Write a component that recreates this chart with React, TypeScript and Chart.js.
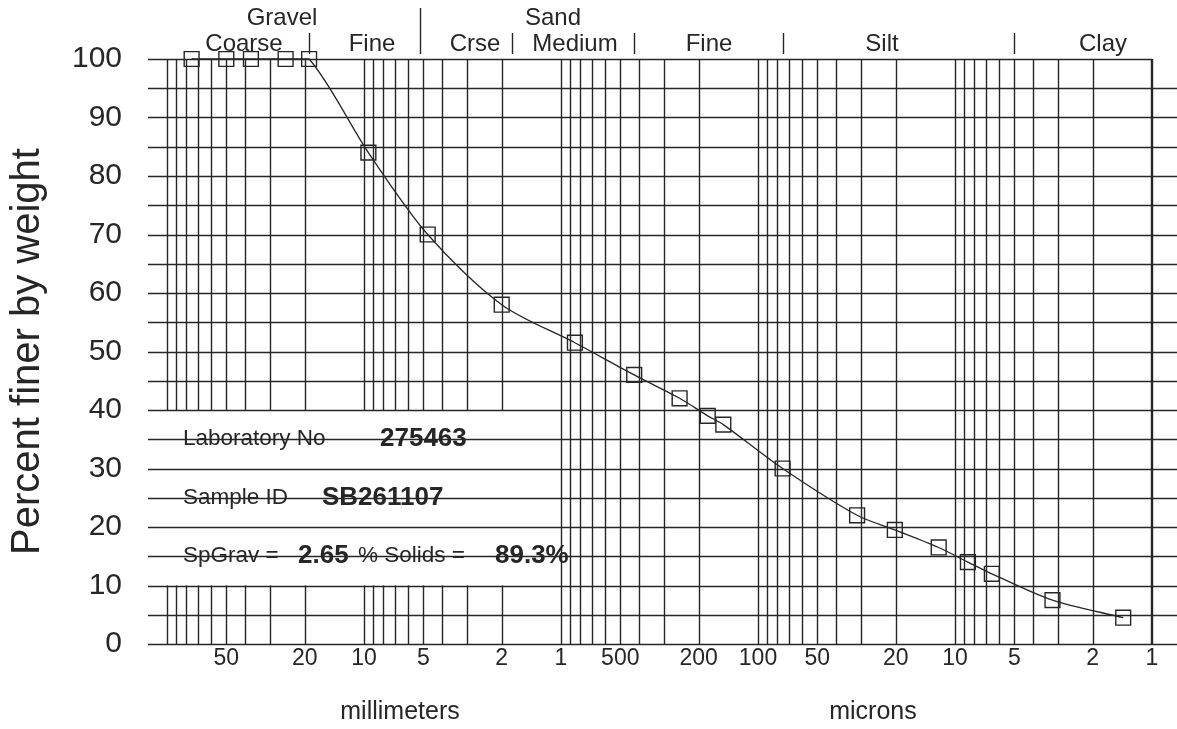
import React, { useEffect, useRef } from "react";
import { Chart, registerables } from "chart.js";

Chart.register(...registerables);

// ---- data ----
const grainSizeMm = [
  75, 50, 37.5, 25, 19, 9.5, 4.75, 2.0, 0.85, 0.425, 0.25, 0.18, 0.15, 0.075,
  0.0314, 0.0202, 0.0121, 0.0086, 0.0065, 0.0032, 0.0014,
];
const percentFiner = [
  100, 100, 100, 100, 100, 84, 70, 58, 51.5, 46, 42, 39, 37.5, 30,
  22, 19.5, 16.5, 14, 12, 7.5, 4.5,
];
const xTickValuesMm = [50, 20, 10, 5, 2, 1, 0.5, 0.2, 0.1, 0.05, 0.02, 0.01, 0.005, 0.002, 0.001];
const yTickValues = [0, 10, 20, 30, 40, 50, 60, 70, 80, 90, 100];
const yGridValues = [0, 5, 10, 15, 20, 25, 30, 35, 40, 45, 50, 55, 60, 65, 70, 75, 80, 85, 90, 95, 100];
const xMinMm = 0.001;
const xMaxMm = 122;
const zoneSeparatorsMm = [19, 5.2, 1.77, 0.425, 0.075, 0.005];
const majorSeparatorMm = 5.2;
const zoneTopLabels = ["Gravel", "Sand"];
const zoneSubLabels = ["Coarse", "Fine", "Crse", "Medium", "Fine", "Silt", "Clay"];
const infoLabels = ["Laboratory No", "Sample ID", "SpGrav =", "% Solids ="];
const infoValues = ["275463", "SB261107", "2.65", "89.3%"];
const yAxisTitle = "Percent finer by weight";
const unitLabels = ["millimeters", "microns"];

const FONT = '"Liberation Sans", Arial, Helvetica, sans-serif';
const INK = "#262626";

const overlayPlugin = {
  id: "gradationOverlay",
  beforeDatasetsDraw(chart: any) {
    const { ctx, chartArea, scales } = chart;
    const { left, right, top, bottom } = chartArea;
    const xs = scales.x;
    const ys = scales.y;
    ctx.save();
    ctx.strokeStyle = INK;
    ctx.lineWidth = 1.4;

    // horizontal grid
    yGridValues.forEach((v) => {
      const py = Math.round(ys.getPixelForValue(v)) + 0.5;
      ctx.beginPath();
      ctx.moveTo(left - 2, py);
      ctx.lineTo(v === 100 ? right : chart.width, py);
      ctx.stroke();
    });

    // vertical log grid
    const yBreakTop = ys.getPixelForValue(40);
    const yBreakBottom = ys.getPixelForValue(10);
    for (let k = -3; k <= 2; k++) {
      for (let m = 1; m <= 9; m++) {
        const d = m * Math.pow(10, k);
        if (d > xMaxMm || d < xMinMm) continue;
        const px = Math.round(xs.getPixelForValue(d)) + 0.5;
        ctx.beginPath();
        if (d >= 2) {
          ctx.moveTo(px, top);
          ctx.lineTo(px, yBreakTop);
          ctx.moveTo(px, yBreakBottom);
          ctx.lineTo(px, bottom);
        } else {
          ctx.moveTo(px, top);
          ctx.lineTo(px, bottom);
        }
        ctx.stroke();
      }
    }

    // zone separators
    zoneSeparatorsMm.forEach((d) => {
      const px = Math.round(xs.getPixelForValue(d)) + 0.5;
      ctx.beginPath();
      ctx.moveTo(px, d === majorSeparatorMm ? 8 : 33);
      ctx.lineTo(px, 54);
      ctx.stroke();
    });

    // zone labels
    ctx.fillStyle = INK;
    ctx.textAlign = "center";
    ctx.textBaseline = "middle";
    ctx.font = `24px ${FONT}`;
    const topPos = [[282, 18], [553, 18]];
    zoneTopLabels.forEach((t, i) => ctx.fillText(t, topPos[i][0], topPos[i][1]));
    const subPos = [[244, 44], [372, 44], [475, 44], [575, 44], [709, 44], [882, 44], [1103, 44]];
    zoneSubLabels.forEach((t, i) => ctx.fillText(t, subPos[i][0], subPos[i][1]));

    // info block
    ctx.textAlign = "left";
    const rows = [35, 25, 15].map((v) => ys.getPixelForValue(v));
    ctx.font = `22.5px ${FONT}`;
    ctx.fillText(infoLabels[0], 183, rows[0]);
    ctx.fillText(infoLabels[1], 183, rows[1]);
    ctx.fillText(infoLabels[2], 183, rows[2]);
    ctx.fillText(infoLabels[3], 358, rows[2]);
    ctx.font = `bold 26px ${FONT}`;
    ctx.fillText(infoValues[0], 380, rows[0]);
    ctx.fillText(infoValues[1], 322, rows[1]);
    ctx.fillText(infoValues[2], 298, rows[2]);
    ctx.fillText(infoValues[3], 495, rows[2]);

    // unit labels
    ctx.textAlign = "center";
    ctx.font = `25px ${FONT}`;
    ctx.fillText(unitLabels[0], 400, 712);
    ctx.fillText(unitLabels[1], 873, 712);

    // right border
    const rx = Math.round(right) - 0.5;
    ctx.beginPath();
    ctx.moveTo(rx, top);
    ctx.lineTo(rx, bottom);
    ctx.stroke();
    ctx.restore();
  },
};

export default function App() {
  const canvasRef = useRef<HTMLCanvasElement | null>(null);

  useEffect(() => {
    if (!canvasRef.current) return;
    const chart = new Chart(canvasRef.current, {
      type: "scatter",
      data: {
        datasets: [
          {
            data: grainSizeMm.map((d, i) => ({ x: d, y: percentFiner[i] })),
            showLine: true,
            borderColor: INK,
            borderWidth: 1.3,
            tension: 0.3,
            capBezierPoints: true,
            pointStyle: "rect",
            pointRadius: 10.5,
            pointHoverRadius: 10.5,
            pointBorderColor: INK,
            pointBorderWidth: 1.4,
            pointBackgroundColor: "rgba(0,0,0,0)",
            clip: false,
          } as any,
        ],
      },
      options: {
        animation: false,
        responsive: false,
        events: [],
        layout: { padding: { top: 59, right: 25, left: 0, bottom: 0 } },
        plugins: { legend: { display: false }, tooltip: { enabled: false } },
        scales: {
          x: {
            type: "logarithmic",
            reverse: true,
            min: xMinMm,
            max: xMaxMm,
            grid: { display: false, drawTicks: false },
            border: { display: false },
            afterBuildTicks: (s: any) => {
              s.ticks = xTickValuesMm.map((v) => ({ value: v }));
            },
            afterFit: (s: any) => {
              s.height = 85;
            },
            ticks: {
              autoSkip: false,
              maxRotation: 0,
              padding: 1,
              color: INK,
              font: { size: 23, family: FONT },
              callback: (v: any) => {
                const n = Number(v);
                return n >= 1 ? String(n) : String(Math.round(n * 1000));
              },
            },
          },
          y: {
            type: "linear",
            min: 0,
            max: 100,
            grid: { display: false, drawTicks: false },
            border: { display: false },
            afterBuildTicks: (s: any) => {
              s.ticks = yTickValues.map((v) => ({ value: v }));
            },
            afterFit: (s: any) => {
              s.width = 150;
            },
            ticks: {
              padding: 28,
              color: INK,
              font: { size: 30, family: FONT },
            },
            title: {
              display: true,
              text: yAxisTitle,
              color: INK,
              font: { size: 40, family: FONT },
              padding: { top: 4, bottom: 0 },
            },
          },
        },
      },
      plugins: [overlayPlugin],
    });
    return () => chart.destroy();
  }, []);

  return (
    <div style={{ position: "absolute", left: 0, top: 0, width: 1177, height: 729, background: "#fff" }}>
      <canvas ref={canvasRef} width={1177} height={729} style={{ display: "block" }} />
    </div>
  );
}
